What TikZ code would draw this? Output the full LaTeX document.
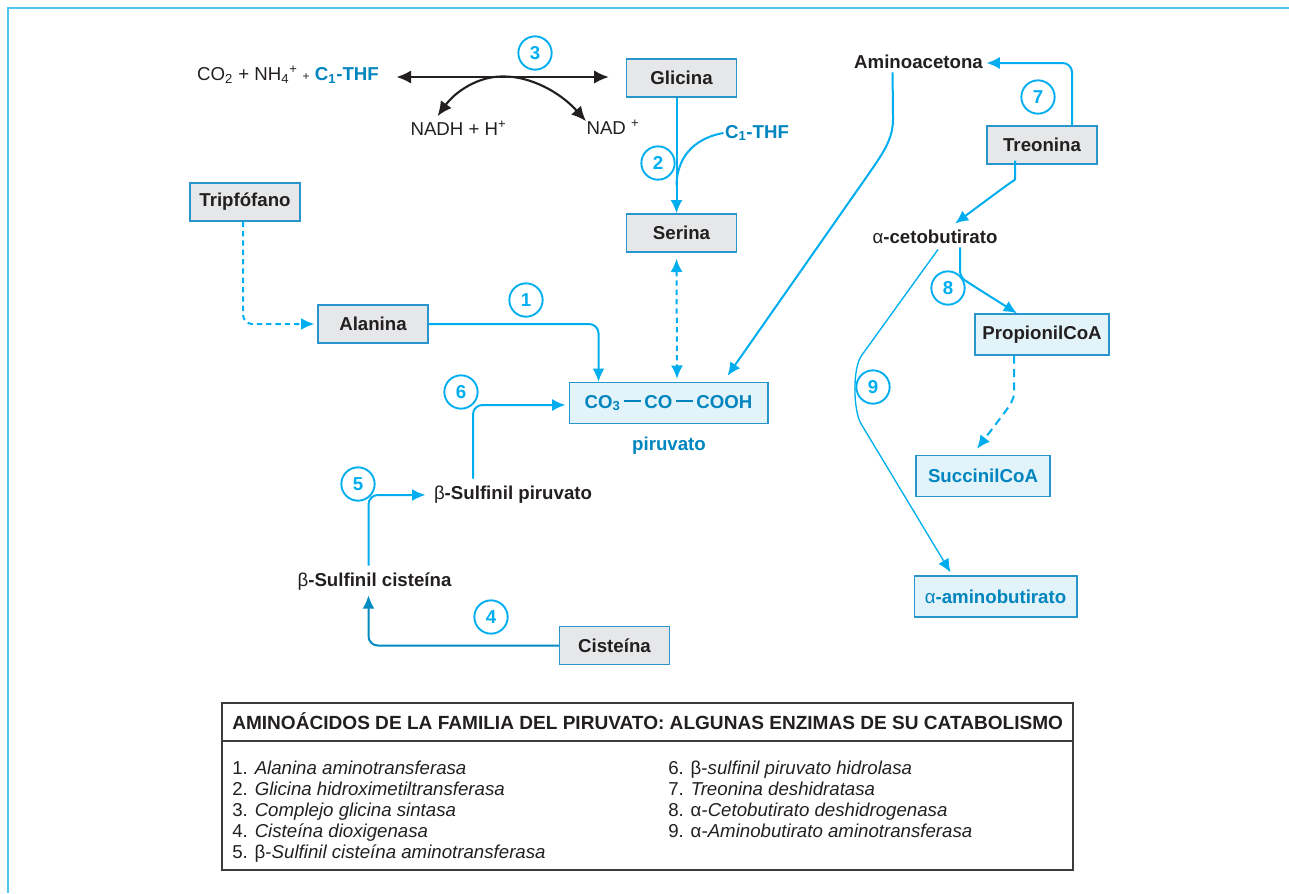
\documentclass[tikz,border=0pt]{standalone}
\usepackage{fontspec}
\setmainfont{Liberation Sans}
\usepackage{xcolor}
\usetikzlibrary{arrows.meta,calc}

\definecolor{azul}{RGB}{0,174,239}
\definecolor{azultexto}{RGB}{0,133,190}
\definecolor{azulosc}{RGB}{0,140,195}
\definecolor{borde}{RGB}{40,150,205}
\definecolor{gris}{RGB}{230,231,233}
\definecolor{celeste}{RGB}{226,243,250}
\definecolor{marco}{RGB}{80,195,240}
\definecolor{negro}{RGB}{35,31,32}
\definecolor{linealey}{RGB}{60,60,60}

\newcommand{\enlace}{\,\rule[0.34em]{0.95em}{0.07em}\,}

\tikzset{
  amino/.style={draw=borde, fill=gris, line width=1pt, minimum width=82.5pt, minimum height=28.5pt, inner sep=1pt, font=\bfseries, text=negro},
  metab/.style={draw=borde, fill=celeste, line width=1pt, minimum width=100.5pt, minimum height=30.75pt, inner sep=1pt, font=\bfseries, text=negro},
  texto/.style={inner sep=1pt, font=\bfseries, text=negro},
  paso/.style={circle, draw=azul, line width=1.4pt, minimum size=25pt, inner sep=0pt, font=\bfseries, text=azul},
  flecha/.style={draw=azul, line width=1.5pt, rounded corners=7pt, -{Latex[length=10pt,width=9pt]}},
  punteada/.style={flecha, dash pattern=on 4pt off 3pt},
  negra/.style={draw=negro, line width=1.6pt, -{Latex[length=11pt,width=10pt]}},
  leyenda/.style={anchor=base west, inner sep=0pt, text=negro}
}

\begin{document}
\fontsize{14}{17}\selectfont
\begin{tikzpicture}[x=0.75pt,y=0.75pt,yscale=-1,xscale=1]
\useasboundingbox (0,0) rectangle (1289,893);

%Frame lines
\draw[marco, line width=1.5pt] (1289,8) -- (8,8) -- (8,893);

% Boxes
\node[amino] (trip) at (245,202) {Tripfófano};
\node[amino] (gli) at (681.5,78) {Glicina};
\node[amino] (ser) at (681.5,233) {Serina};
\node[amino] (ala) at (373,324) {Alanina};
\node[metab, minimum width=149pt, text=azultexto] (pir) at (668.5,403) {CO\textsubscript{3}\enlace CO\enlace COOH};
\node[amino] (cis) at (614.5,645.5) {Cisteína};
\node[amino] (treo) at (1042,145) {Treonina};
\node[metab] (prop) at (1042,334.5) {PropionilCoA};
\node[metab, text=azultexto] (succ) at (983,476) {SuccinilCoA};
\node[metab, minimum width=122pt, text=azultexto] (amb) at (995.5,596.5) {{\mdseries α}-aminobutirato};

% Text Node
\node[texto, text=azultexto] (pirlab) at (669,446) {piruvato};
\node[inner sep=1pt, text=negro] (co2) at (288,75) {CO\textsubscript{2} + NH\textsubscript{4}\textsuperscript{+} {\small +} \textcolor{azultexto}{\bfseries C\textsubscript{1}-THF}};
\node[inner sep=1pt, text=negro] (nadh) at (458.5,128) {NADH + H\textsuperscript{+}};
\node[inner sep=1pt, text=negro] (nad) at (613,127) {NAD \textsuperscript{+}};
\node[texto, text=azultexto] (c1thf) at (757,133) {C\textsubscript{1}-THF};
\node[texto] (amac) at (918.5,62) {Aminoacetona};
\node[texto] (ceto) at (935,237) {{\mdseries α}-cetobutirato};
\node[texto] (bsp) at (513,495) {{\mdseries β}-Sulfinil piruvato};
\node[texto] (bsc) at (374.5,582) {{\mdseries β}-Sulfinil cisteína};

% Enzyme numbers
\node[paso] (p1) at (526,300) {1};
\node[paso] (p2) at (658,163) {2};
\node[paso] (p3) at (535,53) {3};
\node[paso] (p4) at (491,617) {4};
\node[paso] (p5) at (358,484) {5};
\node[paso] (p6) at (461,392) {6};
\node[paso] (p7) at (1038,97) {7};
\node[paso] (p8) at (948,288) {8};
\node[paso] (p9) at (873,387) {9};

% Reaction 3
\draw[negra, {Latex[length=11pt,width=10pt]}-{Latex[length=11pt,width=10pt]}] ($(co2.east)+(16,2)$) -- ($(gli.west)+(-17,-1)$);
\coordinate (r3) at ($(co2.east)!0.5!(gli.west)$);
\draw[negra] (r3) .. controls (478,76) and (455,92) .. ($(nadh.north)+(-21,-3)$);
\draw[negra] (r3) .. controls (530,76) and (560,92) .. ($(nad.north west)+(1,3)$);

% Reaction 2
\draw[flecha] ($(gli.south)+(-5,0)$) -- ($(ser.north)+(-5,0)$);
\draw[draw=azul, line width=1.5pt] (c1thf.west) .. controls (700,137) and (677,152) .. ($(gli.south)+(-5,88)$);

%Straight Lines
\draw[punteada, {Latex[length=10pt,width=9pt]}-{Latex[length=10pt,width=9pt]}] ($(ser.south)+(-5,6)$) -- ($(pir.north)+(8.5,-3)$);
\draw[punteada] ($(trip.south)+(-2,0)$) |- ($(ala.west)+(-3,0)$);
\draw[flecha] (ala.east) -| ($(pir.north)+(-70,0)$);
\draw[flecha] ($(amac.south)+(-26,2)$) -- (893,110) .. controls (893,135) and (887,147) .. (870,172) -- ($(pir.north east)+(-41,-6)$);
\draw[flecha] ($(bsp.north)+(-40,-6)$) |- ($(pir.west)+(-3,2)$);
\draw[flecha] ($(bsc.north)+(-6,-6)$) |- ($(bsp.west)+(-7,0)$);
\draw[flecha, draw=azulosc] (cis.west) -| ($(bsc.south)+(-6,3)$);

% Threonine branch
\draw[flecha] ($(treo.north)+(30,0)$) |- ($(amac.east)+(2,1)$);
\draw[flecha] ($(treo.south)+(-27,0)$) -- (1015,170) .. controls (1015,180) and (1010,183) .. (1003,188) -- ($(ceto.north)+(20,-5)$);
\draw[flecha] ($(ceto.south)+(25,2)$) -- (960,262) .. controls (960,275) and (963,279) .. (972,285) -- (prop.north -| 1017,0);
\draw[flecha, line width=1pt] ($(ceto.south)+(3,4)$) -- (867,348) .. controls (852.5,368) and (853,410.5) .. (866,432) -- ($(amb.north)+(-45,-3)$);
\draw[punteada, dash pattern=on 6pt off 4pt] ($(prop.south)+(-28,0)$) -- (1014,385) .. controls (1014,398) and (1010,405) .. (1002,416) -- ($(succ.north)+(-6,-6)$);

%Shape: Rectangle
\draw[linealey, line width=1.2pt] (222,703) rectangle (1073,870);
\draw[linealey, line width=1.2pt] (222,741) -- (1073,741);
\node[leyenda, font=\fontsize{14.3}{17}\bfseries\selectfont] (tit) at (232,729) {AMINOÁCIDOS DE LA FAMILIA DEL PIRUVATO: ALGUNAS ENZIMAS DE SU CATABOLISMO};
\foreach \txt [count=\i] in {{1. \textit{Alanina aminotransferasa}},
    {2. \textit{Glicina hidroximetiltransferasa}},
    {3. \textit{Complejo glicina sintasa}},
    {4. \textit{Cisteína dioxigenasa}},
    {5. β-\textit{Sulfinil cisteína aminotransferasa}}}
  \node[leyenda] (izq\i) at (232,{774+21.2*(\i-1)}) {\txt};
\foreach \txt [count=\i] in {{6. β-\textit{sulfinil piruvato hidrolasa}},
    {7. \textit{Treonina deshidratasa}},
    {8. α-\textit{Cetobutirato deshidrogenasa}},
    {9. α-\textit{Aminobutirato aminotransferasa}}}
  \node[leyenda] (der\i) at (668,{774+21.2*(\i-1)}) {\txt};
\end{tikzpicture}
\end{document}
